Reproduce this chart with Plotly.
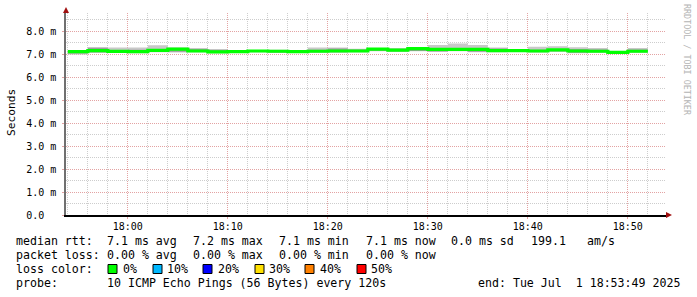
import pandas as pd
import plotly.graph_objects as go

# ---- data (ms), one value per 2-minute step ----
step_start = "2025-07-01 17:54:00"
n_steps = 29
median = [7.10, 7.15, 7.11, 7.10, 7.16, 7.21, 7.13, 7.09, 7.10, 7.13, 7.12, 7.10, 7.12, 7.13, 7.13,
          7.21, 7.17, 7.23, 7.20, 7.20, 7.20, 7.15, 7.15, 7.13, 7.18, 7.13, 7.12, 7.07, 7.12]
smoke_min = [6.98, 7.04, 7.05, 7.03, 7.08, 7.06, 7.08, 7.03, 7.06, 7.08, 7.05, 7.06, 7.07, 7.07, 7.08,
             7.12, 7.10, 7.12, 7.10, 7.12, 7.08, 7.08, 7.10, 7.07, 7.10, 7.03, 7.06, 7.03, 7.07]
smoke_q1 = [7.02, 7.08, 7.07, 7.04, 7.10, 7.10, 7.09, 7.05, 7.07, 7.09, 7.06, 7.07, 7.08, 7.08, 7.09,
            7.14, 7.12, 7.13, 7.11, 7.14, 7.10, 7.09, 7.11, 7.09, 7.12, 7.05, 7.08, 7.04, 7.08]
smoke_q3 = [7.12, 7.27, 7.15, 7.18, 7.20, 7.24, 7.22, 7.18, 7.13, 7.16, 7.15, 7.13, 7.18, 7.24, 7.20,
            7.24, 7.22, 7.26, 7.24, 7.25, 7.24, 7.24, 7.18, 7.18, 7.22, 7.22, 7.20, 7.10, 7.20]
smoke_max = [7.15, 7.29, 7.28, 7.28, 7.38, 7.28, 7.26, 7.21, 7.15, 7.17, 7.18, 7.14, 7.28, 7.28, 7.23,
             7.26, 7.26, 7.29, 7.39, 7.46, 7.39, 7.28, 7.21, 7.31, 7.34, 7.29, 7.26, 7.12, 7.26]

y_tickvals = [0, 1, 2, 3, 4, 5, 6, 7, 8]
y_ticktext = ["0.0\u00a0\u00a0", "1.0 m", "2.0 m", "3.0 m", "4.0 m", "5.0 m", "6.0 m", "7.0 m", "8.0 m"]
x_range = ["2025-07-01 17:53:49", "2025-07-01 18:53:49"]

loss_labels = ["0%", "10%", "20%", "30%", "40%", "50%"]
loss_colors = ["#00ff00", "#00b8ff", "#0000ff", "#ffe000", "#ff8000", "#ff0000"]

line1 = ["median rtt:", "7.1 ms avg", "7.2 ms max", "7.1 ms min", "7.1 ms now", "0.0 ms sd", "199.1", "am/s"]
line2 = ["packet loss:", "0.00 % avg", "0.00 % max", "0.00 % min", "0.00 % now"]
probe_txt = ["probe:", "10 ICMP Echo Pings (56 Bytes) every 120s", "end: Tue Jul  1 18:53:49 2025"]

# ---- build step series ----
times = pd.date_range(step_start, periods=n_steps + 1, freq="2min")


def ext(v):
    return list(v) + [v[-1]]


fig = go.Figure()


def band(lo, hi, color):
    fig.add_trace(go.Scatter(x=times, y=ext(lo), mode="lines", line=dict(width=0, shape="hv"),
                             hoverinfo="skip", showlegend=False))
    fig.add_trace(go.Scatter(x=times, y=ext(hi), mode="lines", line=dict(width=0, shape="hv"),
                             fill="tonexty", fillcolor=color, hoverinfo="skip", showlegend=False))


band(smoke_min, smoke_max, "#c8c8c8")
band(smoke_q1, smoke_q3, "#9c9c9c")
fig.add_trace(go.Scatter(x=times, y=ext(median), mode="lines",
                         line=dict(color="#00ff00", width=3.2, shape="hv"), showlegend=False))

# ---- layout ----
L, R, T, B = 66, 31, 13, 82
W, H = 697, 297
PW, PH = W - L - R, H - T - B
mono = "DejaVu Sans Mono"


def px(x):
    return (x - L) / PW


def py(y):
    return (T + PH - y) / PH


fig.update_layout(
    width=W, height=H, margin=dict(l=L, r=R, t=T, b=B),
    paper_bgcolor="white", plot_bgcolor="white", showlegend=False,
    font=dict(family=mono, size=10, color="black"),
    xaxis=dict(range=x_range, type="date", tickformat="%H:%M", dtick=600000,
               tick0="2025-07-01 18:00:00", showgrid=True, gridcolor="#e3a3a3",
               griddash="1px,1px", gridwidth=1, zeroline=False,
               showline=True, linecolor="black", linewidth=1.5,
               ticks="outside", ticklen=2, tickcolor="#e3a3a3", ticklabelstandoff=-1,
               tickfont=dict(family=mono, size=10),
               minor=dict(dtick=120000, showgrid=True, gridcolor="#cdcdcd",
                          griddash="1px,1px", gridwidth=1)),
    yaxis=dict(range=[0, PH / 23.0], tickvals=y_tickvals, ticktext=y_ticktext,
               showgrid=True, gridcolor="#e3a3a3", griddash="1px,1px", gridwidth=1,
               zeroline=False, showline=True, linecolor="#707070", linewidth=1.5,
               ticks="outside", ticklen=2, tickcolor="#e3a3a3", ticklabelstandoff=4,
               tickfont=dict(family=mono, size=10),
               minor=dict(dtick=0.5, showgrid=True, gridcolor="#cdcdcd",
                          griddash="1px,1px", gridwidth=1)),
)

ann = []


def text(x, y, s, size=11.6, color="black", angle=0, xanchor="left"):
    ann.append(dict(x=px(x), y=py(y), xref="paper", yref="paper", text=s, showarrow=False,
                    xanchor=xanchor, yanchor="middle", textangle=angle, borderpad=0, borderwidth=0,
                    font=dict(family=mono, size=size, color=color)))


for s, x in zip(line1, [16, 107, 193, 279, 366, 451, 531, 587]):
    text(x, 241, s.replace(" ", "\u00a0"))
for s, x in zip(line2, [16, 107, 193, 279, 366]):
    text(x, 255, s.replace(" ", "\u00a0"))
text(16, 269, "loss\u00a0color:")
box_x = [108, 153, 203, 255, 305, 357]
lab_x = [123, 167, 218, 269, 320, 371]
shapes = []
for lbl, col, bx, lx in zip(loss_labels, loss_colors, box_x, lab_x):
    text(lx, 269, lbl)
    shapes.append(dict(type="rect", xref="paper", yref="paper", x0=px(bx), x1=px(bx + 9),
                       y0=py(273.5), y1=py(264.5), fillcolor=col, line=dict(color="black", width=1)))
for s, x in zip(probe_txt, [16, 107, 478]):
    text(x, 283, s.replace(" ", "\u00a0"))

text(11, 113, "Seconds", size=11.2, angle=-90, xanchor="center")
text(687, 60, "RRDTOOL\u00a0/\u00a0TOBI\u00a0OETIKER", size=8.4, color="#b4b4b4", angle=90, xanchor="center")

# axis arrows
shapes.append(dict(type="path", xref="paper", yref="paper", xsizemode="pixel", ysizemode="pixel",
                   xanchor=0, yanchor=1, path="M -3 0 L 3 0 L 0 6 Z",
                   fillcolor="#a01010", line=dict(width=0)))
shapes.append(dict(type="path", xref="paper", yref="paper", xsizemode="pixel", ysizemode="pixel",
                   xanchor=1, yanchor=0, path="M 0 3 L 0 -3 L 6 0 Z",
                   fillcolor="#a01010", line=dict(width=0)))

fig.update_layout(annotations=ann, shapes=shapes)
fig.write_html("out.html")
